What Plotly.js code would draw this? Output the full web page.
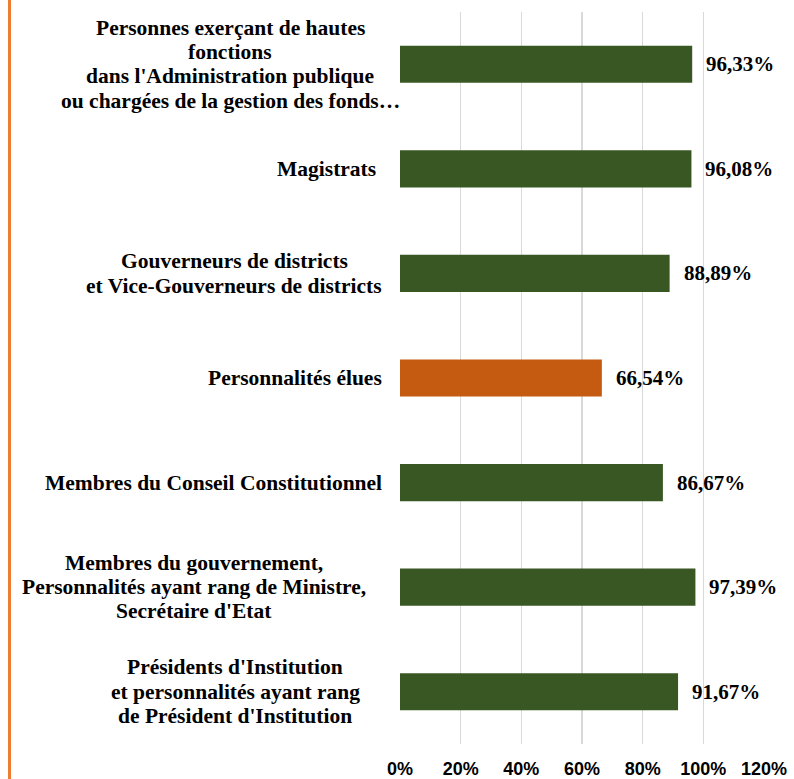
<!DOCTYPE html>
<html>
<head>
<meta charset="utf-8">
<script src="https://cdn.plot.ly/plotly-3.0.1.min.js"></script>
<style>html,body{margin:0;padding:0;background:#fff;}#chart{width:794px;height:779px;}</style>
</head>
<body>
<div id="chart"></div>
<script>
// ---- data (top to bottom) ----
const categories = [
  "Personnes exerçant de hautes<br>fonctions<br>dans l'Administration publique<br>ou chargées de la gestion des fonds…",
  "Magistrats",
  "Gouverneurs de districts<br>et Vice-Gouverneurs de districts",
  "Personnalités élues",
  "Membres du Conseil Constitutionnel",
  "Membres du gouvernement,<br>Personnalités ayant rang de Ministre,<br>Secrétaire d'Etat",
  "Présidents d'Institution<br>et personnalités ayant rang<br>de Président d'Institution"
];
const values = [96.33, 96.08, 88.89, 66.54, 86.67, 97.39, 91.67];
const tickValues = [0, 20, 40, 60, 80, 100, 120];
const tickLabels = ["0%", "20%", "40%", "60%", "80%", "100%", "120%"];
const highlighted = "Personnalités élues";

// ---- styling ----
const GREEN = "#385723", ORANGE = "#C55A11";
const serif = "Liberation Serif";
const labelSize = 21.5;
const lineStep = 24.3;
const labelGaps = [0, 24, 18, 18, 18, 34, 40];   // px between label block and axis

const ctx = document.createElement("canvas").getContext("2d");
ctx.font = `bold ${labelSize}px "${serif}"`;

const annotations = [];
categories.forEach((cat, k) => {
  const lines = cat.split("<br>");
  const maxW = Math.max(...lines.map(l => ctx.measureText(l).width));
  const n = lines.length;
  lines.forEach((line, i) => {
    annotations.push({
      xref: "paper", x: 0, xanchor: "center", xshift: -(labelGaps[k] + maxW / 2),
      yref: "y", y: cat, yanchor: "middle", yshift: ((n - 1) / 2 - i) * lineStep,
      text: line, showarrow: false,
      font: {family: serif, size: labelSize, color: "#000", weight: "bold"}
    });
  });
});
categories.forEach((cat, i) => {
  annotations.push({
    xref: "x", x: values[i], xanchor: "left", xshift: 12,
    yref: "y", y: cat, yanchor: "middle",
    text: values[i].toFixed(2).replace(".", ",") + "%", showarrow: false,
    font: {family: serif, size: 21, color: "#000", weight: "bold"}
  });
});

const trace = {
  type: "bar", orientation: "h",
  x: values, y: categories,
  marker: {color: categories.map(c => c === highlighted ? ORANGE : GREEN)},
  hoverinfo: "x+y"
};

const layout = {
  width: 794, height: 779,
  margin: {l: 400, r: 30, t: 12, b: 35, pad: 0},
  paper_bgcolor: "#fff", plot_bgcolor: "#fff",
  showlegend: false,
  bargap: 0.645,
  xaxis: {
    range: [0, 120], tickmode: "array", tickvals: tickValues, ticktext: tickLabels,
    showgrid: true, gridcolor: "#D9D9D9", gridwidth: 1.3,
    zeroline: false, showline: false, ticks: "",
    ticklabelstandoff: 12,
    tickfont: {family: "Liberation Sans", size: 18, color: "#000", weight: "bold"}
  },
  yaxis: {
    type: "category", autorange: "reversed",
    showticklabels: false, showgrid: false, zeroline: false, showline: false, ticks: ""
  },
  annotations: annotations,
  shapes: [{
    type: "line", xref: "paper", yref: "paper",
    x0: (9.5 - 400) / 364, x1: (9.5 - 400) / 364, y0: -0.1, y1: 1.1,
    line: {color: "#ED7D31", width: 3}
  }]
};

Plotly.newPlot("chart", [trace], layout, {displayModeBar: false, staticPlot: true});
</script>
</body>
</html>
